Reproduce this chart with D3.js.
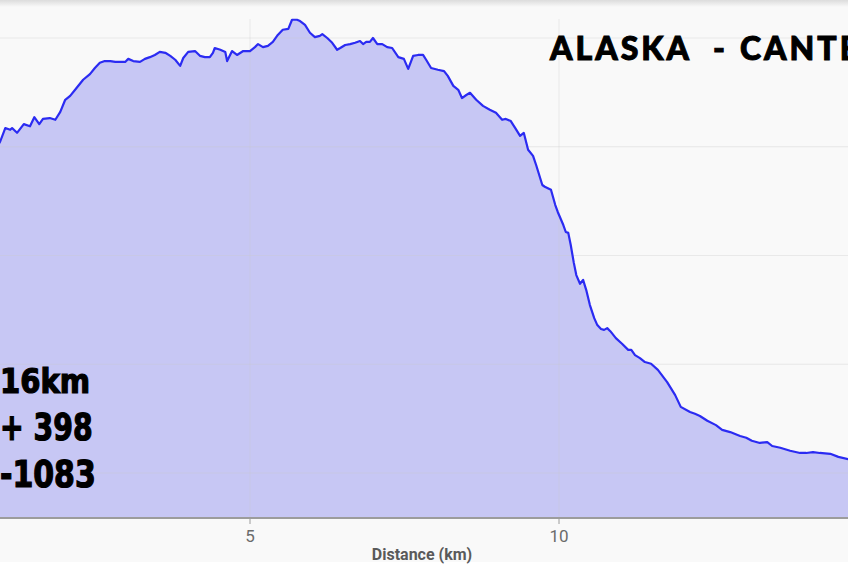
<!DOCTYPE html>
<html><head><meta charset="utf-8">
<script src="https://cdn.jsdelivr.net/npm/d3@7"></script>
<style>
html,body{margin:0;padding:0;background:#f9f9f9;overflow:hidden;}
svg{display:block;}
</style></head>
<body>
<script>
const distanceKm = [0.85,0.955,1.04,1.12,1.15,1.23,1.34,1.44,1.51,1.59,1.65,1.76,1.85,1.93,2.01,2.09,2.17,2.30,2.41,2.49,2.57,2.65,2.74,2.82,2.90,2.98,3.03,3.11,3.22,3.30,3.38,3.46,3.54,3.63,3.71,3.79,3.87,3.92,4.00,4.11,4.19,4.27,4.35,4.40,4.43,4.52,4.60,4.63,4.71,4.79,4.89,5.00,5.08,5.13,5.21,5.29,5.37,5.45,5.53,5.62,5.68,5.76,5.81,5.89,5.97,6.05,6.13,6.17,6.25,6.33,6.41,6.46,6.54,6.62,6.70,6.78,6.83,6.88,6.94,6.99,7.06,7.14,7.22,7.30,7.40,7.49,7.56,7.64,7.72,7.80,7.85,7.93,8.04,8.14,8.20,8.29,8.37,8.43,8.50,8.56,8.66,8.77,8.88,8.98,9.08,9.14,9.22,9.30,9.37,9.43,9.50,9.58,9.63,9.73,9.77,9.87,9.94,9.98,10.07,10.11,10.15,10.19,10.24,10.28,10.34,10.39,10.44,10.50,10.57,10.62,10.68,10.73,10.78,10.83,10.92,11.02,11.12,11.17,11.23,11.31,11.39,11.49,11.60,11.75,11.88,11.97,12.12,12.20,12.28,12.40,12.54,12.64,12.77,12.93,13.03,13.12,13.25,13.37,13.45,13.58,13.74,13.90,14.00,14.11,14.22,14.39,14.52,14.68,14.80];
const elevationM = [1240,1261,1293,1289,1293,1282,1302,1297,1318,1302,1314,1316,1312,1330,1358,1367,1381,1404,1417,1431,1443,1447,1447,1445,1445,1445,1452,1447,1445,1452,1456,1461,1468,1466,1459,1450,1436,1454,1468,1470,1459,1456,1456,1466,1477,1473,1468,1447,1470,1461,1470,1470,1479,1486,1479,1482,1491,1507,1519,1521,1542,1542,1539,1530,1512,1502,1505,1509,1500,1489,1473,1477,1484,1486,1489,1493,1486,1491,1491,1500,1486,1486,1479,1477,1456,1452,1429,1459,1461,1461,1450,1431,1427,1424,1413,1390,1381,1362,1369,1374,1358,1344,1335,1328,1312,1314,1309,1291,1275,1282,1243,1229,1208,1162,1158,1151,1116,1100,1070,1054,1052,1024,983,955,935,944,921,886,856,840,831,829,833,826,810,797,783,783,771,764,755,751,737,709,679,652,640,636,631,620,610,599,594,585,581,574,569,571,562,558,551,546,546,548,546,544,537,532,530];
const xTicks = [5,10];
const yGrid = [500,750,1000,1250,1500];
const titleWords = ["ALASKA","-","CANTE"];
const statsLines = ["16km","+ 398","-1083"];
const axisTitle = "Distance (km)";

const W = 848, H = 566;
const svg = d3.select("body").append("svg").attr("width", W).attr("height", H);

const defs = svg.append("defs");
const grad = defs.append("linearGradient").attr("id","topShadow").attr("x1",0).attr("y1",0).attr("x2",0).attr("y2",1);
grad.append("stop").attr("offset","0%").attr("stop-color","#dcdcdc");
grad.append("stop").attr("offset","100%").attr("stop-color","#f9f9f9");

svg.append("rect").attr("width",W).attr("height",H).attr("fill","#f9f9f9");
svg.append("rect").attr("width",W).attr("height",7).attr("fill","url(#topShadow)");
svg.append("rect").attr("y",562).attr("width",W).attr("height",4).attr("fill","#ffffff");

const plotTop = 19, plotBottom = 518;
const x = d3.scaleLinear().domain([5,10]).range([250,559]);
const y = d3.scaleLinear().domain([396.5,1500]).range([plotBottom,38]);

const data = distanceKm.map((d,i)=>({d, e: elevationM[i]}));
const area = d3.area().x(p=>x(p.d)).y0(plotBottom).y1(p=>y(p.e)).curve(d3.curveLinear);
const line = d3.line().x(p=>x(p.d)).y(p=>y(p.e)).curve(d3.curveLinear);

svg.append("path").datum(data).attr("d",area).attr("fill","rgba(150,150,240,0.5)");

// grid (drawn over the fill, faint)
const g = svg.append("g");
g.selectAll("line.h").data(yGrid).join("line")
  .attr("x1",0).attr("x2",W).attr("y1",d=>y(d)).attr("y2",d=>y(d))
  .attr("stroke","rgba(200,200,200,0.35)").attr("stroke-width",1);
g.selectAll("line.v").data(xTicks).join("line")
  .attr("x1",d=>x(d)).attr("x2",d=>x(d)).attr("y1",plotTop).attr("y2",plotBottom)
  .attr("stroke","rgba(200,200,200,0.35)").attr("stroke-width",1);

svg.append("path").datum(data).attr("d",line).attr("fill","none")
  .attr("stroke","#2b2bf2").attr("stroke-width",2.2).attr("stroke-linejoin","round");

// x axis
const axisG = svg.append("g").attr("transform",`translate(0,${plotBottom})`);
axisG.append("line").attr("x1",0).attr("x2",W).attr("y1",0).attr("y2",0)
  .attr("stroke","#9c9c9c").attr("stroke-width",2);
const xt = axisG.selectAll("g.t").data(xTicks).join("g").attr("transform",d=>`translate(${x(d)},0)`);
xt.append("line").attr("y1",0).attr("y2",6).attr("stroke","#9c9c9c").attr("stroke-width",1);
xt.append("text").attr("y",24).attr("text-anchor","middle")
  .attr("font-family","Roboto, sans-serif").attr("font-size",17).attr("fill","#6b6b6b").text(d=>d);

svg.append("text").attr("x",422).attr("y",560).attr("text-anchor","middle")
  .attr("font-family","Roboto, sans-serif").attr("font-weight",700).attr("font-size",16)
  .attr("fill","#5a5a5a").text(axisTitle);

// title
const title = svg.append("text").attr("y",60)
  .attr("font-family","Lato, 'DejaVu Sans', sans-serif").attr("font-weight",900)
  .attr("font-size",32).attr("letter-spacing",3).attr("fill","#000")
  .attr("stroke","#000").attr("stroke-width",1);
title.selectAll("tspan").data(titleWords).join("tspan")
  .attr("x",(d,i)=>[550,713,740][i]).text(d=>d);

// stats
const statScale = [0.95,0.85,0.9];
svg.selectAll("text.stat").data(statsLines).join("text").attr("class","stat")
  .attr("transform",(d,i)=>`translate(0,${[393,440,487][i]}) scale(${statScale[i]},1)`)
  .attr("font-family","'Liberation Sans Narrow', 'DejaVu Sans Condensed', sans-serif")
  .attr("font-weight",700).attr("font-size",(d,i)=>i===0?34:37)
  .attr("fill","#000").attr("stroke","#000").attr("stroke-width",1.2).text(d=>d);
</script>
</body></html>
